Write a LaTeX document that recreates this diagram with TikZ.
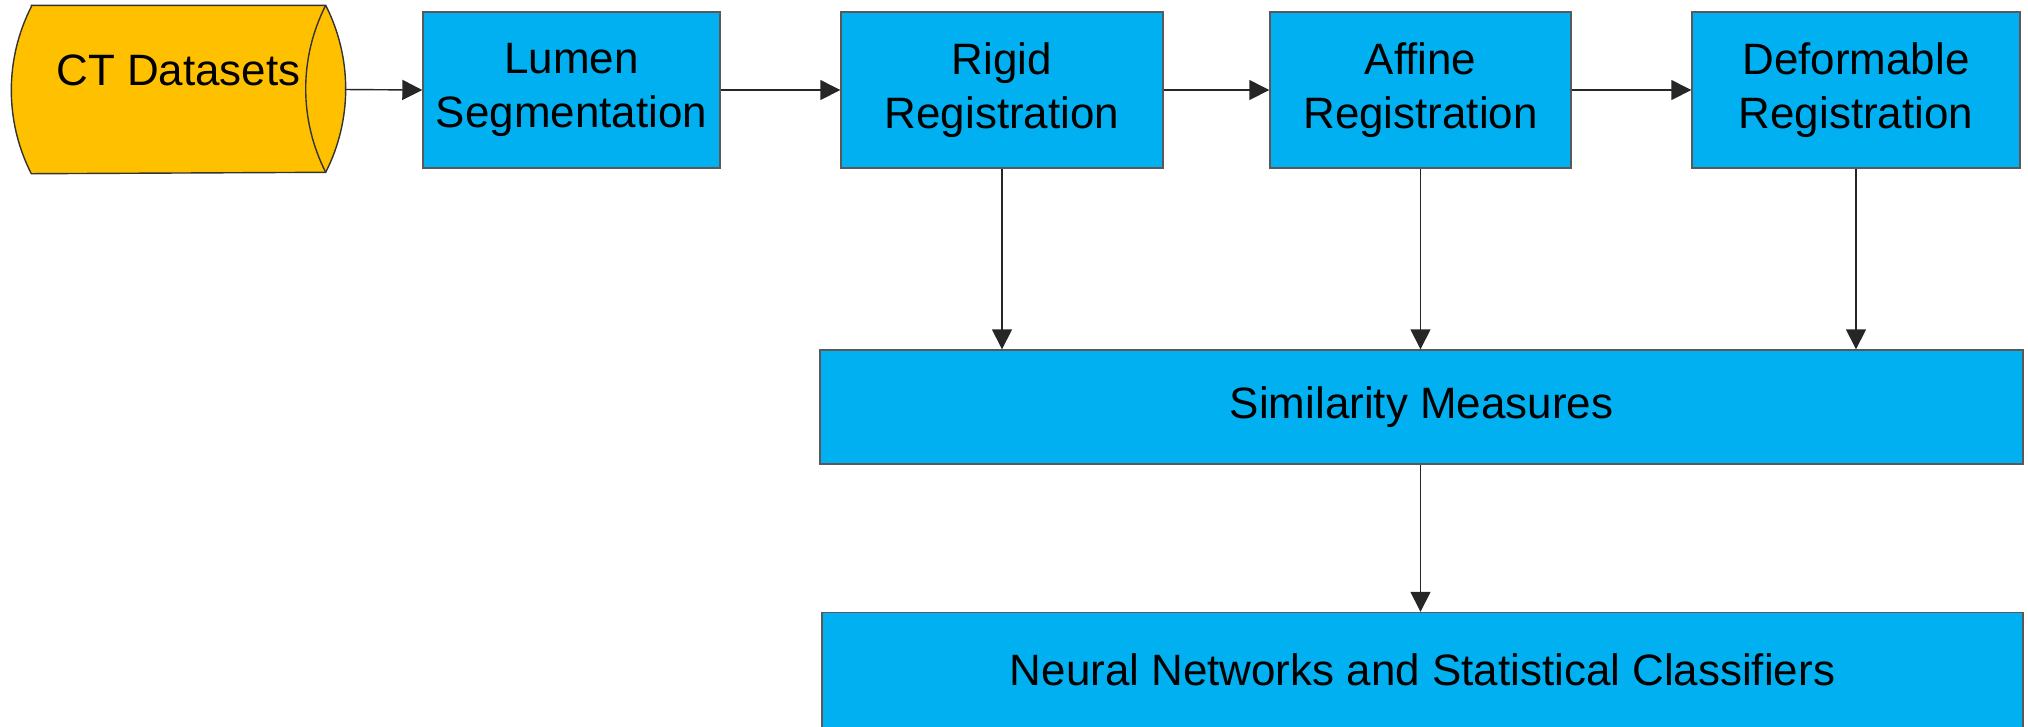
\documentclass[tikz,border=0pt]{standalone}
\usepackage{fontspec}
\setmainfont{Liberation Sans}
\usetikzlibrary{arrows.meta,backgrounds}

\definecolor{boxblue}{HTML}{00B0F0}
\definecolor{datagold}{HTML}{FFC000}

\begin{document}
\begin{tikzpicture}[stepbox/.style = {rectangle, draw=black!65, line width=0.4pt, fill=boxblue, align=center, inner sep=0pt, font=\fontsize{12.5}{15.4}\selectfont},
			databody/.style = {rectangle, inner sep=0pt, font=\fontsize{12.5}{15.4}\selectfont},
			flow/.style = {draw=black!85, line width=0.4pt, -{Triangle[length=2mm,width=2mm]}}]

\useasboundingbox (0,0) rectangle (20.28,-7.26);

% data store: body node, ends drawn behind it
\node[databody, minimum width=2.93cm, minimum height=1.67cm, text height=0.32cm, text depth=0.41cm] (ct) at (1.785,-0.895) {CT Datasets\hspace{0.2cm}};
\begin{scope}[on background layer]
\filldraw[draw=black!80, line width=0.4pt, fill=datagold] (ct.north west) -- (ct.north east) arc (26.94:-26.94:1.843cm) -- (ct.south west) arc (206.94:153.06:1.843cm) -- cycle;
\draw[black!80, line width=0.4pt] (ct.north east) arc (153.06:206.94:1.843cm);
\end{scope}
\coordinate (ctend) at ([xshift=2mm]ct.east);

\node[stepbox, minimum width=2.97cm, minimum height=1.56cm] (lumen) at (5.715,-0.90) {Lumen\\Segmentation};
\node[stepbox, minimum width=3.22cm, minimum height=1.56cm] (rigid) at (10.02,-0.90) {Rigid\\Registration};
\node[stepbox, minimum width=3.01cm, minimum height=1.56cm] (affine) at (14.205,-0.90) {Affine\\Registration};
\node[stepbox, minimum width=3.28cm, minimum height=1.56cm] (deform) at (18.56,-0.90) {Deformable\\Registration};

\node[stepbox, minimum width=12.03cm, minimum height=1.14cm] (sim) at (14.215,-4.07) {Similarity Measures};
\node[stepbox, minimum width=12.01cm, minimum height=1.15cm] (neural) at (14.225,-6.70) {Neural Networks and Statistical Classifiers};

\draw[flow] (ctend) -- (lumen.west);
\draw[flow] (lumen.east) -- (rigid.west);
\draw[flow] (rigid.east) -- (affine.west);
\draw[flow] (affine.east) -- (deform.west);

\draw[flow] (rigid.south) -- (rigid.south |- sim.north);
\draw[flow] (affine.south) -- (affine.south |- sim.north);
\draw[flow] (deform.south) -- (deform.south |- sim.north);
\draw[flow] (sim.south -| affine.south) -- (neural.north -| affine.south);

\end{tikzpicture}
\end{document}
